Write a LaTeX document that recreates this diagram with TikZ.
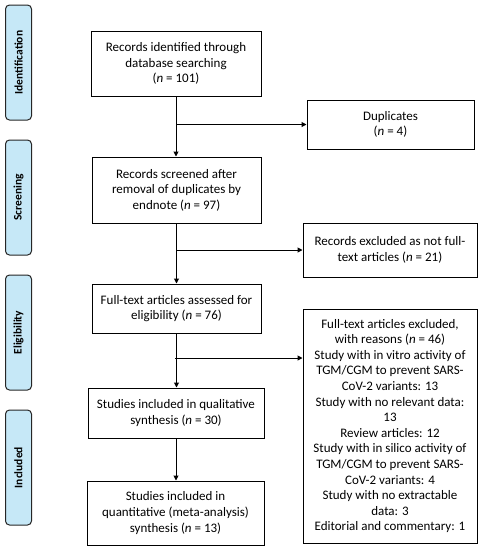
\documentclass[tikz,border=0pt]{standalone}
\usepackage{fontspec}
\setmainfont{Carlito}
\usetikzlibrary{arrows.meta}
\definecolor{phase}{HTML}{C6E8F7}

\begin{document}
\begin{tikzpicture}[x=1pt,y=-1pt,
		box/.style={draw,line width=1pt,align=center,inner sep=2pt,font=\fontsize{13}{15.6}\selectfont},
		phasebox/.style={draw=black!85,fill=phase,line width=1pt,rounded corners=4pt,minimum width=115pt,minimum height=26pt,rotate=90,font=\fontsize{11.5}{13}\selectfont\bfseries},
		arr/.style={line width=1pt,-{Triangle[length=5pt,width=5pt]}}]
			\useasboundingbox (0,0) rectangle (483,550);
			% phases
			\node[phasebox] (idf) at (18.5,62.5) {Identification};
			\node[phasebox] (scr) at (18.5,197.5) {Screening};
			\node[phasebox] (elg) at (18.5,332.5) {Eligibility};
			\node[phasebox] (inc) at (18.5,467.5) {Included};
			% main column
			\node[box,minimum width=170pt,minimum height=65pt] (rec) at (176,63.5) {Records identified through\\database searching\\(\textit{n} = 101)};
			\node[box,minimum width=169pt,minimum height=66pt] (scrn) at (176.5,190) {Records screened after\\removal of duplicates by\\endnote (\textit{n} = 97)};
			\node[box,minimum width=169pt,minimum height=49pt] (full) at (176.5,308.5) {Full-text articles assessed for\\eligibility (\textit{n} = 76)};
			\node[box,minimum width=176pt,minimum height=50pt] (qual) at (176,413) {Studies included in qualitative\\synthesis (\textit{n} = 30)};
			\node[box,minimum width=177pt,minimum height=64pt] (quant) at (175.5,513) {Studies included in\\quantitative (meta-analysis)\\synthesis (\textit{n} = 13)};
			% excluded column
			\node[box,minimum width=167pt,minimum height=49pt] (dup) at (390.5,124.5) {Duplicates\\(\textit{n} = 4)};
			\node[box,minimum width=174pt,minimum height=54pt] (exa) at (390,250) {Records excluded as not full-\\text articles (\textit{n} = 21)};
			\node[box,minimum width=174pt,minimum height=234pt] (exb) at (390,426) {Full-text articles excluded,\\with reasons (\textit{n} = 46)\\Study with in vitro activity of\\TGM/CGM to prevent SARS-\\CoV-2 variants: 13\\Study with no relevant data:\\13\\Review articles: 12\\Study with in silico activity of\\TGM/CGM to prevent SARS-\\CoV-2 variants: 4\\Study with no extractable\\data: 3\\Editorial and commentary: 1};
			% arrows
			\draw[arr] (rec) -- (rec |- scrn.north);
			\draw[arr] (scrn) -- (scrn |- full.north);
			\draw[arr] (full) -- (full |- qual.north);
			\draw[arr] (qual) -- (qual |- quant.north);
			\coordinate (ba) at (rec |- dup.west);
			\coordinate (bb) at (scrn |- exa.west);
			\coordinate (bc) at (175,358);
			\draw[arr] (ba) -- (dup.west);
			\draw[arr] (bb) -- (exa.west);
			\draw[arr] (bc) -- (bc -| exb.west);
		\end{tikzpicture}
\end{document}
